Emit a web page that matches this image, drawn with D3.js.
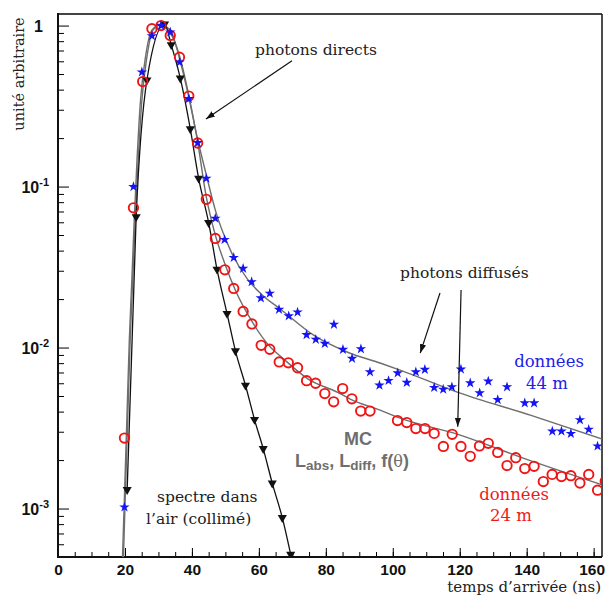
<!DOCTYPE html>
<html>
<head>
<meta charset="utf-8">
<script src="https://cdn.jsdelivr.net/npm/d3@7/dist/d3.min.js"></script>
<style>
  body { margin: 0; background: #fff; }
  text { font-family: "DejaVu Serif", serif; }
  text.num, .num text, .num tspan { font-family: "Liberation Sans", Arial, sans-serif; font-weight: bold; }
</style>
</head>
<body>
<script>
// spectre dans l'air (collimé) - triangles
const airTime  = [20.66, 23.35, 26.56, 31.83, 33.83, 36.53, 39.52, 42.01, 45.0, 47.5, 50.5, 53.0, 56.0, 58.7, 61.3, 64.0, 67.0, 69.5]
const airValue = [0.00131, 0.0649, 0.459, 1.02, 0.759, 0.471, 0.228, 0.1125, 0.0596, 0.0306, 0.01626, 0.00953, 0.00583, 0.00357, 0.002355, 0.001438, 0.000877, 0.000519]

// données 24 m - cercles rouges
const d24Time  = [19.85, 22.54, 25.30, 28.05, 30.78, 33.53, 36.29, 39.07, 41.71, 44.31, 47.0, 49.85, 52.49, 55.3, 57.93, 60.69, 63.26, 66.08, 68.8, 71.56, 74.25, 76.95, 79.7, 82.34, 85.03, 87.78, 90.42, 93.2,
                  101.41, 104.19, 106.89, 109.64, 112.37, 115.12, 117.75, 120.36, 123.14, 125.9, 128.53, 131.35, 134.13, 136.74, 139.43, 142.22, 144.97, 147.6, 150.39, 153.2, 155.9, 158.53, 161.17, 163.47]
const d24Value = [0.00274, 0.0738, 0.449, 0.957, 1.0, 0.869, 0.636, 0.365, 0.1865, 0.0833, 0.0476, 0.0304, 0.0233, 0.01677, 0.01402, 0.01033, 0.00976, 0.00814, 0.00804, 0.00749, 0.00623, 0.0060, 0.00518, 0.0046, 0.00556, 0.0048, 0.00403, 0.00403,
                  0.00352, 0.00342, 0.00314, 0.00314, 0.00293, 0.00243, 0.00289, 0.00243, 0.00211, 0.00245, 0.00254, 0.00223, 0.00185, 0.00207, 0.00177, 0.00183, 0.00147, 0.00163, 0.00158, 0.0016, 0.00144, 0.00163, 0.0013, 0.00148]

// données 44 m - étoiles bleues
const d44Time  = [19.85, 22.54, 25.06, 28.05, 30.78, 33.53, 36.32, 39.07, 41.71, 44.31, 47.0, 49.76, 52.49, 55.3, 57.84, 60.6, 63.26, 66.02, 68.92, 71.56, 74.25, 77.0, 79.7, 82.43, 85.12, 87.84, 90.48, 93.2, 96.02, 98.74,
                  101.47, 104.19, 106.89, 109.58, 112.37, 115.06, 117.66, 120.36, 123.14, 125.96, 128.53, 131.35, 134.13, 139.43, 142.22, 147.66, 150.39, 153.2, 155.9, 158.53, 161.17]
const d44Value = [0.00102, 0.0997, 0.514, 0.863, 1.0, 0.911, 0.593, 0.351, 0.187, 0.1124, 0.0634, 0.0468, 0.0362, 0.031, 0.0256, 0.0203, 0.0217, 0.01723, 0.0157, 0.01658, 0.012, 0.01123, 0.01059, 0.01392, 0.00972, 0.00855, 0.0098, 0.00705, 0.00583, 0.00623,
                  0.00695, 0.00606, 0.00705, 0.0073, 0.00564, 0.0055, 0.00569, 0.00733, 0.00602, 0.00522, 0.00617, 0.00474, 0.00569, 0.00452, 0.00452, 0.00302, 0.00302, 0.00292, 0.00355, 0.0031, 0.00244]

// courbes MC (Labs, Ldiff, f(theta))
const mc24Time  = [19.55, 20.06, 20.81, 21.56, 22.31, 23.05, 23.95, 25.06, 26.56, 28.44, 30.84, 33.53, 36.23, 38.92, 41.62, 44.31, 47.0, 50.0, 52.99, 58.08, 63.47, 66.47, 74.85, 83.53, 87.43, 96.41, 102.4, 119.46, 138.32, 163.17]
const mc24Value = [0.000497, 0.00112, 0.00353, 0.0111, 0.0262, 0.0619, 0.146, 0.345, 0.639, 0.94, 1.01, 0.90, 0.657, 0.3815, 0.1946, 0.086, 0.0499, 0.0325, 0.0227, 0.01437, 0.01004, 0.00883, 0.00635, 0.00527, 0.00477, 0.00407, 0.00363, 0.00289, 0.00208, 0.00139]
const mc44Time  = [19.27, 19.81, 20.56, 21.30, 22.05, 22.77, 23.60, 24.65, 26.14, 28.08, 30.48, 33.53, 36.23, 38.92, 41.62, 44.31, 47.0, 51.5, 56.59, 61.08, 66.47, 76.35, 86.53, 96.41, 102.4, 119.46, 141.32, 162.87]
const mc44Value = [0.000497, 0.00112, 0.00353, 0.0111, 0.0262, 0.0619, 0.146, 0.345, 0.639, 0.94, 1.01, 0.94, 0.631, 0.371, 0.2002, 0.1179, 0.0714, 0.0403, 0.0266, 0.02114, 0.0173, 0.01193, 0.00935, 0.00799, 0.00722, 0.00527, 0.00379, 0.00269]

const xMajor = [0, 20, 40, 60, 80, 100, 120, 140, 160]
const yMajor = [1, 0.1, 0.01, 0.001]
const yLabels = [["1", ""], ["10", "-1"], ["10", "-2"], ["10", "-3"]]

const W = 605, H = 597
const pLeft = 58, pRight = 602, pTop = 14, pBottom = 557

const svg = d3.select("body").append("svg")
  .attr("width", W)
  .attr("height", H)

const x = d3.scaleLinear().domain([0, 162.5]).range([pLeft, pRight])
const y = d3.scaleLog().domain([5e-4, 1.18]).range([pBottom, pTop])

const zip = (a, b) => a.map((v, i) => [v, b[i]])

const defs = svg.append("defs")
defs.append("clipPath").attr("id", "plot")
  .append("rect").attr("x", pLeft).attr("y", pTop).attr("width", pRight - pLeft).attr("height", pBottom - pTop)

defs.append("marker")
  .attr("id", "arrow")
  .attr("viewBox", "0 0 10 10")
  .attr("refX", 10).attr("refY", 5)
  .attr("markerWidth", 9).attr("markerHeight", 9)
  .attr("markerUnits", "userSpaceOnUse")
  .attr("orient", "auto")
  .append("path").attr("d", "M0,1.5L10,5L0,8.5Z").attr("fill", "#111")

// axes: ticks tournés vers l'intérieur
const minorX = d3.range(0, 161, 5)
svg.append("g")
  .attr("transform", `translate(0,${pBottom})`)
  .call(d3.axisBottom(x).tickValues(minorX).tickSize(-5).tickFormat(""))
  .call(g => g.select(".domain").remove())
svg.append("g")
  .attr("class", "num")
  .attr("transform", `translate(0,${pBottom})`)
  .call(d3.axisBottom(x).tickValues(xMajor).tickSize(-9).tickPadding(7).tickFormat(d3.format("d")))
  .call(g => g.select(".domain").remove())
  .call(g => g.selectAll("text").attr("font-size", 15.5).attr("fill", "#111")
    .attr("dx", d => d == 160 ? -2 : 0))

const minorY = []
yMajor.forEach(v => { for (let k = 2; k <= 9; k++) if (v * k < 1.18) minorY.push(v * k) })
for (let k = 5; k <= 9; k++) minorY.push(k * 1e-4)
svg.append("g")
  .attr("transform", `translate(${pLeft},0)`)
  .call(d3.axisLeft(y).tickValues(minorY.filter(v => v >= 5e-4)).tickSize(-6).tickFormat(""))
  .call(g => g.select(".domain").remove())
svg.append("g")
  .attr("transform", `translate(${pLeft},0)`)
  .call(d3.axisLeft(y).tickValues(yMajor).tickSize(-11).tickFormat(""))
  .call(g => g.select(".domain").remove())

const yl = svg.append("g").selectAll("text")
  .data(yMajor)
  .enter().append("text")
    .attr("class", "num")
    .attr("x", (d, i) => i == 0 ? 43 : 49)
    .attr("y", d => y(d) + 6)
    .attr("text-anchor", "end")
    .attr("font-size", 16)
    .attr("fill", "#111")
yl.append("tspan").text((d, i) => yLabels[i][0])
yl.append("tspan").attr("font-size", 11).attr("dy", -7).text((d, i) => yLabels[i][1])

// cadre
svg.append("line").attr("x1", pLeft).attr("x2", pRight).attr("y1", pTop).attr("y2", pTop).attr("stroke", "#444").attr("stroke-width", 2)
svg.append("line").attr("x1", pRight).attr("x2", pRight).attr("y1", pTop).attr("y2", pBottom).attr("stroke", "#111").attr("stroke-width", 1.5)
svg.append("line").attr("x1", pLeft).attr("x2", pLeft).attr("y1", pTop - 1).attr("y2", pBottom + 1).attr("stroke", "#111").attr("stroke-width", 2)
svg.append("line").attr("x1", pLeft - 1).attr("x2", pRight).attr("y1", pBottom).attr("y2", pBottom).attr("stroke", "#111").attr("stroke-width", 2)

const plot = svg.append("g").attr("clip-path", "url(#plot)")
const line = d3.line().x(d => x(d[0])).y(d => y(d[1])).curve(d3.curveMonotoneX)

plot.append("path").datum(zip(mc44Time, mc44Value))
  .attr("d", line).attr("fill", "none").attr("stroke", "#6e6e6e").attr("stroke-width", 1.4)
plot.append("path").datum(zip(mc24Time, mc24Value))
  .attr("d", line).attr("fill", "none").attr("stroke", "#6e6e6e").attr("stroke-width", 1.4)
plot.append("path").datum(zip(airTime, airValue))
  .attr("d", line).attr("fill", "none").attr("stroke", "#111").attr("stroke-width", 1.3)

plot.selectAll("path.tri")
  .data(zip(airTime, airValue))
  .enter().append("path")
    .attr("class", "tri")
    .attr("d", d3.symbol(d3.symbolTriangle, 36))
    .attr("transform", d => `translate(${x(d[0])},${y(d[1])}) rotate(180)`)
    .attr("fill", "#111")

plot.selectAll("circle.d24")
  .data(zip(d24Time, d24Value))
  .enter().append("circle")
    .attr("class", "d24")
    .attr("cx", d => x(d[0]))
    .attr("cy", d => y(d[1]))
    .attr("r", 4.7)
    .attr("fill", "none")
    .attr("stroke", "#f01414")
    .attr("stroke-width", 1.9)

plot.selectAll("path.d44")
  .data(zip(d44Time, d44Value))
  .enter().append("path")
    .attr("class", "d44")
    .attr("d", d3.symbol(d3.symbolStar, 34))
    .attr("transform", d => `translate(${x(d[0])},${y(d[1])})`)
    .attr("fill", "#1414f5")

// flèches (en coordonnées des données)
const arrows = [
  [[69.9, 0.604], [44.2, 0.263]],
  [[114.1, 0.0218], [108.2, 0.00923]],
  [[120.4, 0.0228], [119.4, 0.00322]]
]
svg.selectAll("line.arrow")
  .data(arrows)
  .enter().append("line")
    .attr("class", "arrow")
    .attr("x1", d => x(d[0][0])).attr("y1", d => y(d[0][1]))
    .attr("x2", d => x(d[1][0])).attr("y2", d => y(d[1][1]))
    .attr("stroke", "#111").attr("stroke-width", 1.2)
    .attr("marker-end", "url(#arrow)")

// textes
const label = (t, px, py, opts = {}) => svg.append("text")
  .attr("x", px).attr("y", py)
  .attr("font-size", opts.size || 15.5)
  .attr("fill", opts.color || "#222")
  .attr("text-anchor", opts.anchor || "start")
  .text(t)

label("photons directs", 255, 55)
label("photons diffusés", 400, 278)
label("données", 549, 367, { color: "#2020e6", size: 16.5, anchor: "middle" })
label("44 m", 547, 389, { color: "#2020e6", size: 16.5, anchor: "middle" })
label("données", 514, 500, { color: "#ee1a1a", size: 16.5, anchor: "middle" })
label("24 m", 511, 521, { color: "#ee1a1a", size: 16.5, anchor: "middle" })
label("spectre dans", 157, 502)
label("l\u2019air (collimé)", 146, 524)
label("temps d\u2019arrivée (ns)", 601, 592, { size: 15, anchor: "end" })

svg.append("text")
  .attr("transform", "translate(24,74) rotate(-90)")
  .attr("text-anchor", "middle")
  .attr("font-size", 14.5)
  .attr("fill", "#222")
  .text("unité arbitraire")

svg.append("text")
  .attr("class", "num")
  .attr("x", 358).attr("y", 445)
  .attr("text-anchor", "middle")
  .attr("font-size", 18)
  .attr("fill", "#6e6e6e")
  .text("MC")

const mc = svg.append("text")
  .attr("class", "num")
  .attr("x", 295).attr("y", 467)
  .attr("font-size", 18)
  .attr("fill", "#6e6e6e")
mc.append("tspan").text("L")
mc.append("tspan").attr("font-size", 13.5).attr("dy", 3).text("abs")
mc.append("tspan").attr("dy", -3).text(", L")
mc.append("tspan").attr("font-size", 13.5).attr("dy", 3).text("diff")
mc.append("tspan").attr("dy", -3).text(", f(")
mc.append("tspan").style("font-family", "DejaVu Serif, serif").style("font-weight", "normal").attr("font-size", 16).text("θ")
mc.append("tspan").text(")")
</script>
</body>
</html>
